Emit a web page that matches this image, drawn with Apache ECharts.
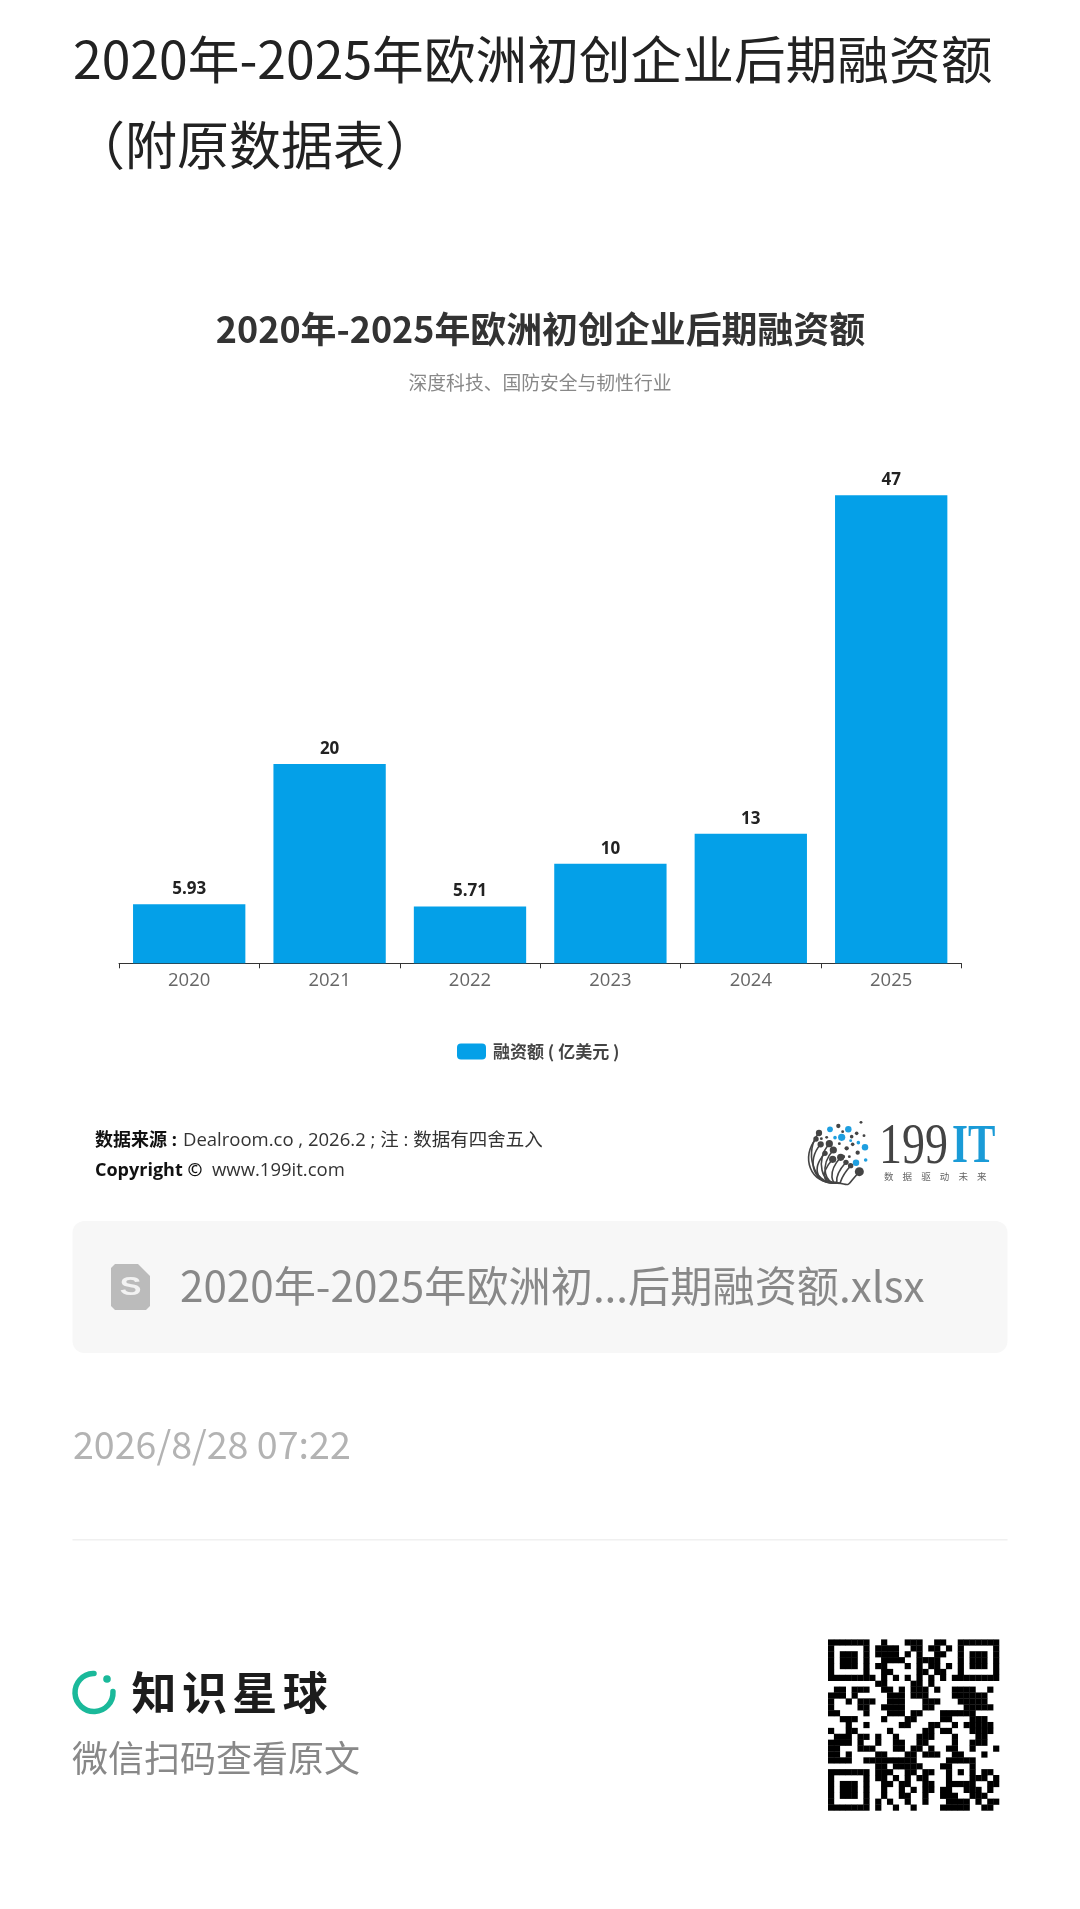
<!DOCTYPE html>
<html><head><meta charset="utf-8">
<style>html,body{margin:0;padding:0;background:#fff}#c{width:1080px;height:1909px}</style>
<script src="https://cdn.jsdelivr.net/npm/echarts@6/dist/echarts.min.js"></script>
</head><body><div id="c"></div>
<script>
// ---- data ----
const years = ['2020','2021','2022','2023','2024','2025'];
const funding = [5.93,20,5.71,10,13,47];
const seriesName = '融资额 ( 亿美元 )';
const chartTitle = '2020年-2025年欧洲初创企业后期融资额';
const chartSubtitle = '深度科技、国防安全与韧性行业';
const pageTitle = ['2020年-2025年欧洲初创企业后期融资额','（附原数据表）'];
const fileName = '2020年-2025年欧洲初...后期融资额.xlsx';
const stamp = '2026/8/28 07:22';
const brand = ['知','识','星','球'];
const scanHint = '微信扫码查看原文';
const CJK = '"Noto Sans CJK SC"';
const OS = '"Open Sans","Noto Sans CJK SC"';

const qr = [
"11111110010001110011001111111","10000010111100110110101000001","10111010111101010011001011101",
"10111010011110011110001011101","10111010110001010110101011101","10000010011000011011001000001",
"11111111010101010101011111111","00000000110000110100000000000","01101110011010111010011110010",
"11101000001110111000011111100","10010111001110001110001111100","10000110011110001100000111110",
"11000010001110110001111110000","00111000010001100001100011100","00010010000011000110010111110",
"10011000001000001101100011110","01110110100100011100010001100","11110100100110011000010011100",
"11000111000110110100110010001","11010000110001101110011000100","11110011111111100000111110000",
"00000000110111110001100010000","11111110111001101100101010110","10000010110101011000100011101",
"10111010011011001100111110011","10111010010010101101100111010","10111010010011001001110011100",
"10000010101001001000111101011","11111110100100100001111100110"];

const logoTips = [[117,99,3.5],[108,117,3],[122,133,3.5],[148,131,4],[160,150,4],[135,160,3],[158,178,4],[182,172,4],[198,187,3],[212,197,3],[238,215,5]];
const logoBlue = [[150,88,4],[205,88,4.5],[185,112,5],[165,113,2.5],[235,128,2.5],[255,142,4.5],[228,188,4.5],[257,180,2.5],[212,122,2]];
const logoGray = [[175,78,3],[243,67,2],[188,95,2],[230,100,2.5],[252,107,2],[215,110,2.5],[218,133,2.5],[178,131,2],[200,145,3],[233,158,3],[190,170,2.5],[140,112,2],[124,116,2],[208,170,2]];

// ---- page chrome ----
function txt(text,x,y,font,fill,extra){
  return {type:'text',x:x,y:y,silent:true,style:Object.assign({text:text,font:font,fill:fill,textAlign:'left',textVerticalAlign:'middle'},extra||{})};
}
const g = [];
g.push(txt(pageTitle[0],73,59,'400 51.7px '+CJK,'#222'));
g.push(txt(pageTitle[1],73,145,'400 52px '+CJK,'#222'));

// source lines
g.push(txt('数据来源 :',95,1141,'700 18px '+OS,'#111'));
g.push(txt('Dealroom.co , 2026.2 ; 注 : 数据有四舍五入',183,1141,'400 18.5px '+OS,'#333'));
g.push(txt('Copyright ©',95,1171,'700 18px '+OS,'#111'));
g.push(txt('www.199it.com',212,1171,'400 18.5px '+OS,'#333'));

// 199IT logo
const lx=780, ly=1100;
const ox=v=>lx+v/3, oy=v=>ly+v/3;
logoTips.forEach(t=>{
  g.push({type:'bezierCurve',silent:true,shape:{x1:ox(168),y1:oy(248),x2:ox(t[0]),y2:oy(t[1]),cpx1:ox(t[0]-20),cpy1:oy(255),cpx2:ox(t[0]-45),cpy2:oy(t[1]+50)},style:{fill:null,stroke:'#444',lineWidth:1.6}});
  g.push({type:'circle',silent:true,shape:{cx:ox(t[0]),cy:oy(t[1]),r:t[2]*0.9},style:{fill:'#444'}});
});
logoBlue.forEach(t=>g.push({type:'circle',silent:true,shape:{cx:ox(t[0]),cy:oy(t[1]),r:t[2]*0.72},style:{fill:'#1f9fe0'}}));
logoGray.forEach(t=>g.push({type:'circle',silent:true,shape:{cx:ox(t[0]),cy:oy(t[1]),r:t[2]*0.72},style:{fill:'#444'}}));
g.push({type:'text',x:879,y:1148,scaleX:.82,scaleY:1.0,silent:true,style:{text:'199',font:'400 56px "Liberation Serif"',fill:'#444',textVerticalAlign:'middle'}});
g.push({type:'text',x:952,y:1148,scaleX:.76,silent:true,style:{text:'IT',font:'700 54px "Liberation Serif"',fill:'#1a9bd7',textVerticalAlign:'middle'}});
['数','据','驱','动','未','来'].forEach((c,i)=>g.push(txt(c,884+i*18.6,1176,'400 9.5px '+CJK,'#666')));

// file card
g.push({type:'rect',silent:true,shape:{x:72.5,y:1221,width:935,height:132,r:12},style:{fill:'#f7f7f7'}});
g.push({type:'polygon',silent:true,shape:{points:[[115,1264],[138,1264],[150,1276],[150,1306],[146,1310],[115,1310],[111,1306],[111,1268]]},style:{fill:'#bbbbbb'}});
g.push({type:'text',x:130.5,y:1288,scaleX:1.25,silent:true,style:{text:'S',font:'700 26px "Liberation Sans"',fill:'#f2f2f2',textAlign:'center',textVerticalAlign:'middle'}});
g.push(txt(fileName,180,1286,'400 42.2px '+CJK,'#888'));

g.push(txt(stamp,73,1445,'400 37.6px '+CJK,'#b3b3b3'));
g.push({type:'rect',silent:true,shape:{x:72.5,y:1539,width:935,height:1.5},style:{fill:'#f0f0f0'}});

// brand
g.push({type:'arc',silent:true,shape:{cx:94,cy:1692.5,r:19,startAngle:-0.05,endAngle:Math.PI*1.5,clockwise:true},style:{fill:null,stroke:'#1ab99a',lineWidth:5.5,lineCap:'round'}});
g.push({type:'circle',silent:true,shape:{cx:107,cy:1679,r:3.8},style:{fill:'#1ab99a'}});
brand.forEach((c,i)=>g.push(txt(c,131.5+i*50.4,1693,'700 45px '+CJK,'#1c1c1c')));
g.push(txt(scanHint,72,1758,'400 36px '+CJK,'#888'));

// QR
const qs=171/29, qx=828, qy=1639.4;
qr.forEach((row,r)=>{[...row].forEach((b,c)=>{ if(b==='1') g.push({type:'rect',silent:true,shape:{x:qx+c*qs,y:qy+r*qs,width:qs+.3,height:qs+.3},style:{fill:'#000'}}); });});

const chart = echarts.init(document.getElementById('c'),null,{renderer:'canvas',width:1080,height:1909});
chart.setOption({
  animation:false,
  backgroundColor:'#fff',
  title:[
    {text:chartTitle,left:540.5,top:305,textAlign:'center',padding:0,textStyle:{fontFamily:'Noto Sans CJK SC',fontWeight:700,fontSize:35.9,color:'#333',lineHeight:48}},
    {text:chartSubtitle,left:540,top:370,textAlign:'center',padding:0,textStyle:{fontFamily:'Noto Sans CJK SC',fontWeight:400,fontSize:18.8,color:'#888',lineHeight:26}}
  ],
  legend:{left:457,top:1043,padding:0,itemWidth:29,itemHeight:16,itemGap:6,icon:'roundRect',data:[seriesName],
    itemStyle:{borderRadius:4},
    textStyle:{fontFamily:'Noto Sans CJK SC',fontSize:17,fontWeight:700,color:'#444',padding:[0,0,0,2]}},
  grid:{left:119,top:465.3,width:842.4,height:498,containLabel:false},
  xAxis:{type:'category',data:years,
    axisLine:{show:true,lineStyle:{color:'#333',width:1}},
    axisTick:{show:true,length:5,alignWithLabel:false,lineStyle:{color:'#333'}},
    axisLabel:{margin:8,fontFamily:'Open Sans',fontSize:18.5,color:'#666'}},
  yAxis:{type:'value',min:0,max:50,show:false,splitLine:{show:false}},
  series:[{name:seriesName,type:'bar',data:funding,barCategoryGap:'20%',itemStyle:{color:'#04a0e8'},
    label:{show:true,position:'top',distance:6.5,fontFamily:'Open Sans',fontWeight:700,fontSize:17,color:'#222'}}],
  graphic:{elements:g}
});
</script></body></html>
